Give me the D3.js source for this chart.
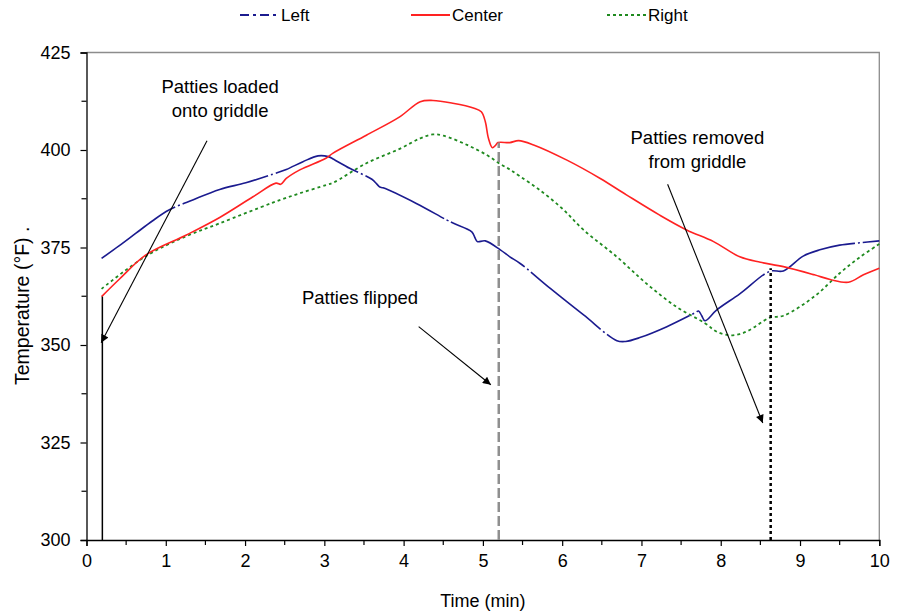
<!DOCTYPE html>
<html>
<head>
<meta charset="utf-8">
<script src="https://cdn.jsdelivr.net/npm/d3@7"></script>
<style>
  html, body { margin: 0; padding: 0; background: #fff; }
  svg { display: block; font-family: "Liberation Sans", Arial, sans-serif; }
</style>
</head>
<body>
<svg id="chart" width="899" height="613"></svg>
<script>
// Griddle surface temperature at three probe positions over one cook cycle
const seriesNames = ["Left", "Center", "Right"];

const leftTime = [0.19, 0.41, 0.62, 0.83, 1.04, 1.34, 1.68, 2.01, 2.35, 2.52, 2.73, 2.92, 3.05, 3.11, 3.32, 3.60, 3.66, 3.70, 3.74, 4.16, 4.54, 4.63, 4.86, 4.90, 4.93, 5.03, 5.22, 5.34, 5.47, 5.85, 6.27, 6.69, 6.80, 6.98, 7.32, 7.68, 7.72, 7.76, 7.80, 7.95, 8.24, 8.62, 8.79, 9.04, 9.25, 9.50, 9.75, 10.0];
const leftTemp = [372.2, 375.4, 378.6, 381.8, 384.6, 387.2, 389.9, 391.6, 393.8, 395.0, 397.0, 398.5, 398.3, 397.7, 395.3, 392.5, 391.3, 390.5, 390.3, 386.3, 382.1, 381.2, 379.0, 377.5, 376.5, 376.7, 374.4, 372.6, 370.9, 364.5, 357.7, 351.1, 350.9, 351.9, 354.7, 358.3, 358.7, 357.5, 356.2, 359.0, 363.1, 368.9, 369.0, 372.8, 374.4, 375.6, 376.2, 376.7];

const centerTime = [0.19, 0.41, 0.75, 1.26, 1.68, 2.10, 2.39, 2.45, 2.52, 2.69, 3.02, 3.11, 3.53, 3.95, 4.21, 4.37, 4.62, 4.88, 4.98, 5.03, 5.07, 5.12, 5.16, 5.19, 5.34, 5.45, 5.64, 6.06, 6.48, 6.81, 7.23, 7.57, 7.91, 8.24, 8.50, 8.79, 9.18, 9.38, 9.61, 9.80, 10.0];
const centerTemp = [362.4, 366.8, 373.1, 378.2, 382.7, 388.0, 391.5, 391.2, 392.7, 394.9, 397.9, 399.2, 403.8, 408.5, 412.4, 412.7, 412.0, 410.8, 409.8, 407.3, 403.0, 400.6, 401.2, 401.9, 401.9, 402.4, 401.3, 397.4, 392.7, 388.5, 383.3, 379.5, 376.5, 372.6, 371.2, 370.1, 368.0, 366.8, 366.1, 368.0, 369.7];

const rightTime = [0.19, 0.75, 1.26, 1.68, 2.35, 2.69, 3.02, 3.11, 3.53, 3.95, 4.21, 4.37, 4.50, 4.80, 5.05, 5.22, 5.34, 5.47, 5.70, 6.00, 6.27, 6.69, 7.06, 7.44, 7.80, 7.95, 8.11, 8.24, 8.36, 8.62, 8.79, 9.19, 9.50, 9.76, 10.0];
const rightTemp = [364.4, 372.8, 377.9, 381.2, 386.5, 388.9, 391.0, 391.6, 396.6, 400.3, 403.0, 404.0, 403.7, 401.3, 398.7, 396.4, 395.0, 393.2, 390.0, 385.0, 379.5, 372.6, 365.8, 359.8, 355.6, 353.4, 352.5, 352.8, 353.8, 357.0, 357.5, 362.6, 368.4, 372.6, 375.9];

const xTicks = [0, 1, 2, 3, 4, 5, 6, 7, 8, 9, 10];
const yTicks = [300, 325, 350, 375, 400, 425];

// Event markers (time in minutes, top temperature)
const loadedTime = 0.2, loadedTop = 362.4;
const flippedTime = 5.2, flippedTop = 401.9;
const removedTime = 8.63, removedTop = 369.7;

const svg = d3.select("#chart");
const plotLeft = 86.5, plotRight = 879.3, plotTop = 52.5, plotBottom = 540;

const x = d3.scaleLinear().domain([0, 10]).range([plotLeft, plotRight]);
const y = d3.scaleLinear().domain([300, 425]).range([plotBottom, plotTop]);

// Plot frame: grey top/right border
svg.append("path")
  .attr("d", `M${plotLeft},${plotTop}H${plotRight}V${plotBottom}`)
  .attr("fill", "none").attr("stroke", "#8c8c8c").attr("stroke-width", 1.3);

// Axes
const xAxis = d3.axisBottom(x).tickValues(xTicks).tickSize(6).tickPadding(8).tickFormat(d3.format("d"));
const gx = svg.append("g").attr("transform", `translate(0,${plotBottom})`).call(xAxis);
const yAxis = d3.axisLeft(y).tickValues(yTicks).tickSize(6).tickPadding(10).tickFormat(d3.format("d"));
const gy = svg.append("g").attr("transform", `translate(${plotLeft},0)`).call(yAxis);

[gx, gy].forEach(g => {
  g.select(".domain").attr("stroke", "#000").attr("stroke-width", 1.3);
  g.selectAll(".tick line").attr("stroke", "#000").attr("stroke-width", 1.2);
  g.selectAll(".tick text").attr("font-size", 18).attr("fill", "#000")
    .attr("font-family", "Liberation Sans, Arial, sans-serif");
});

// Minor ticks
const xMinor = d3.range(0.5, 10, 1);
svg.append("g").selectAll("line").data(xMinor).join("line")
  .attr("x1", d => x(d)).attr("x2", d => x(d))
  .attr("y1", plotBottom).attr("y2", plotBottom + 5)
  .attr("stroke", "#000").attr("stroke-width", 1.2);
const yMinor = d3.range(312.5, 425, 25);
svg.append("g").selectAll("line").data(yMinor).join("line")
  .attr("x1", plotLeft - 5).attr("x2", plotLeft)
  .attr("y1", d => y(d)).attr("y2", d => y(d))
  .attr("stroke", "#000").attr("stroke-width", 1.2);

// Axis titles
svg.append("text").attr("x", (plotLeft + plotRight) / 2).attr("y", 607)
  .attr("text-anchor", "middle").attr("font-size", 18).text("Time (min)");
svg.append("text")
  .attr("transform", `translate(29,${385}) rotate(-90)`)
  .attr("text-anchor", "start").attr("font-size", 19.5)
  .text("Temperature (°F)  .");

// Series
const styles = {
  Left:   { color: "#1b1b8f", width: 1.6, dash: "90,3,2,3", legendDash: "9,4,3,4" },
  Center: { color: "#ff2222", width: 1.6, dash: null, legendDash: null },
  Right:  { color: "#1f8a1f", width: 1.8, dash: "3,3", legendDash: "3,3" }
};
const seriesData = {
  Left: leftTime.map((t, i) => [t, leftTemp[i]]),
  Center: centerTime.map((t, i) => [t, centerTemp[i]]),
  Right: rightTime.map((t, i) => [t, rightTemp[i]])
};

const line = d3.line().x(d => x(d[0])).y(d => y(d[1])).curve(d3.curveCatmullRom.alpha(0.5));

["Right", "Left", "Center"].forEach(name => {
  const s = styles[name];
  svg.append("path").datum(seriesData[name])
    .attr("d", line).attr("fill", "none")
    .attr("stroke", s.color).attr("stroke-width", s.width)
    .attr("stroke-dasharray", s.dash);
});

// Event lines
svg.append("line").attr("x1", x(loadedTime)).attr("x2", x(loadedTime))
  .attr("y1", y(300)).attr("y2", y(loadedTop))
  .attr("stroke", "#000").attr("stroke-width", 1.5);
svg.append("line").attr("x1", x(flippedTime)).attr("x2", x(flippedTime))
  .attr("y1", y(300)).attr("y2", y(flippedTop))
  .attr("stroke", "#8f8f8f").attr("stroke-width", 2.5).attr("stroke-dasharray", "10,4");
svg.append("line").attr("x1", x(removedTime)).attr("x2", x(removedTime))
  .attr("y1", y(300)).attr("y2", y(removedTop))
  .attr("stroke", "#000").attr("stroke-width", 2.5).attr("stroke-dasharray", "3,3");

// Annotations with arrows
const defs = svg.append("defs");
defs.append("marker").attr("id", "arrow")
  .attr("viewBox", "0 0 10 10").attr("refX", 10).attr("refY", 5)
  .attr("markerWidth", 11).attr("markerHeight", 8).attr("markerUnits", "userSpaceOnUse")
  .attr("orient", "auto")
  .append("path").attr("d", "M0,0L10,5L0,10Z").attr("fill", "#000");

const notes = [
  { lines: ["Patties loaded", "onto griddle"], tx: 1.685, ty: 414.5, from: [1.52, 402.4], to: [0.185, 350.6] },
  { lines: ["Patties flipped"], tx: 3.45, ty: 360.5, from: [4.19, 354.7], to: [5.1, 339.8] },
  { lines: ["Patties removed", "from griddle"], tx: 7.705, ty: 401.6, from: [7.33, 391.2], to: [8.53, 330.0] }
];
notes.forEach(n => {
  const t = svg.append("text").attr("text-anchor", "middle").attr("font-size", 18.5)
    .attr("x", x(n.tx)).attr("y", y(n.ty));
  n.lines.forEach((l, i) => t.append("tspan").attr("x", x(n.tx)).attr("dy", i === 0 ? 0 : 24).text(l));
  svg.append("line")
    .attr("x1", x(n.from[0])).attr("y1", y(n.from[1]))
    .attr("x2", x(n.to[0])).attr("y2", y(n.to[1]))
    .attr("stroke", "#000").attr("stroke-width", 1.1)
    .attr("marker-end", "url(#arrow)");
});

// Legend
const legendPos = { Left: 240, Center: 411, Right: 607 };
seriesNames.forEach(name => {
  const s = styles[name];
  const lx = legendPos[name];
  const g = svg.append("g");
  g.append("line").attr("x1", lx).attr("x2", lx + 39).attr("y1", 15).attr("y2", 15)
    .attr("stroke", s.color).attr("stroke-width", 2.2)
    .attr("stroke-dasharray", s.legendDash);
  g.append("text").attr("x", lx + 41).attr("y", 21).attr("font-size", 17).text(name);
});
</script>
</body>
</html>
